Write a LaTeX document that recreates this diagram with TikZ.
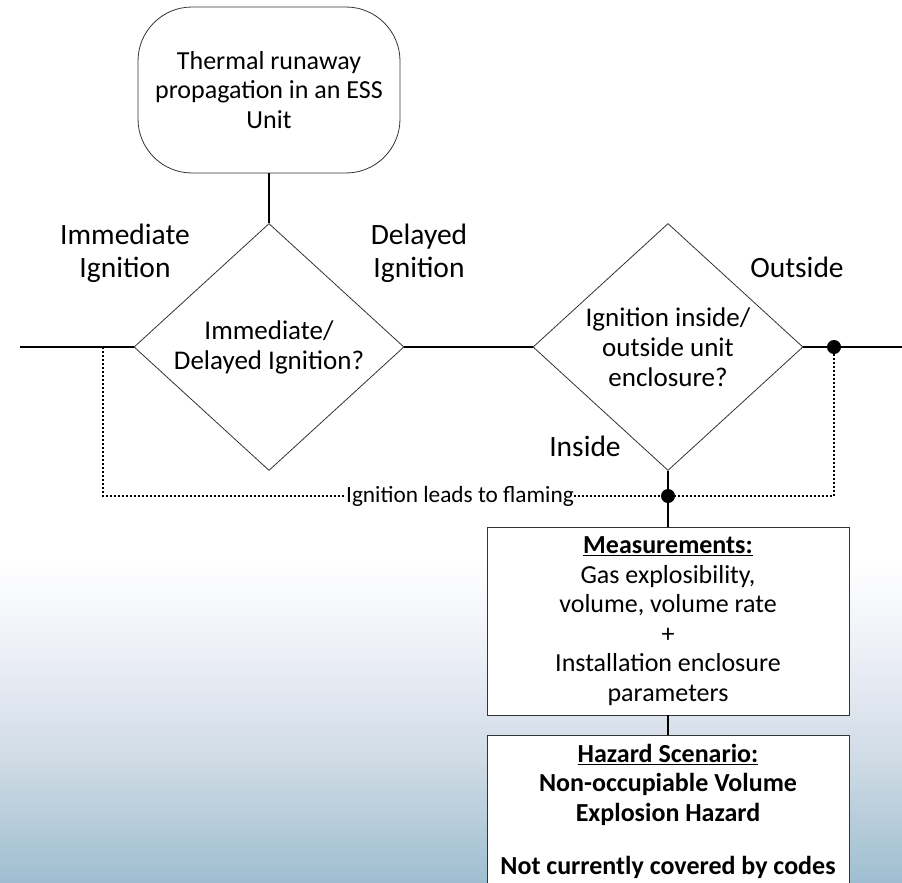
\documentclass[tikz,border=0pt]{standalone}
\usepackage{fontspec}
\setmainfont{Carlito}
\usetikzlibrary{shapes.geometric, calc}
\definecolor{bgone}{HTML}{EBEEF6}
\definecolor{bgtwo}{HTML}{CFDBE5}
\definecolor{bgbot}{HTML}{9EBED0}

\begin{document}
\begin{tikzpicture}[line cap=butt, line join=miter, x=1pt, y=-1pt,
  txt/.style={align=center, font=\fontsize{26}{29.5}\selectfont},
  lbl/.style={align=center, font=\fontsize{29.5}{33}\selectfont},
  box/.style={txt, draw=black!80, line width=0.8pt, fill=white, inner sep=0pt, minimum width=362},
  decision/.style={align=center, font=\fontsize{27}{30}\selectfont, diamond, draw=black!80, line width=0.8pt, fill=white, inner sep=0pt, aspect=1.093, minimum width=270, minimum height=247},
  wire/.style={line width=2pt, black},
  dots/.style={line width=2pt, black, dash pattern=on 2pt off 2pt},
  dot/.style={circle, fill=black, inner sep=0pt, minimum size=14}]
\useasboundingbox (0,0) rectangle (902,883);
% background
\fill[white] (0,0) rectangle (902,560);
\shade[top color=white, bottom color=bgone] (0,560) rectangle (902,661);
\shade[top color=bgone, bottom color=bgtwo] (0,660) rectangle (902,761);
\shade[top color=bgtwo, bottom color=bgbot] (0,760) rectangle (902,883);

% nodes
\node[txt, draw=black!80, line width=0.8pt, fill=white, rounded corners=54, minimum width=262, minimum height=166, inner sep=0pt] (start) at (269,90) {Thermal runaway\\propagation in an ESS\\Unit};
\node[decision] (ign) at (269,347) {Immediate/\\Delayed Ignition?};
\node[decision] (encl) at (668,347) {Ignition inside/\\outside unit\\enclosure?};
\node[box, minimum height=188] (meas) at (668,621) {\textbf{\underline{Measurements:}}\\Gas explosibility,\\volume, volume rate\\+\\Installation enclosure\\parameters};
\node[box, minimum height=152, anchor=north, font=\fontsize{26}{29.5}\selectfont\bfseries] (haz) at (668,735) {\underline{Hazard Scenario:}\\Non-occupiable Volume\\Explosion Hazard\\[24pt]Not currently covered by codes};

% branch labels
\node[lbl] (immL) at (125,253) {Immediate\\Ignition};
\node[lbl] (delL) at (419,253) {Delayed\\Ignition};
\node[lbl] (outL) at (797,267) {Outside};
\node[lbl] (insL) at (585,446) {Inside};

\coordinate (leftEnd) at (20,347);
\coordinate (rightEnd) at (902,347);
\coordinate (tapL) at (103,347);
\coordinate (cornL) at (103,496);
\coordinate (cornR) at (834,496);

% dotted flaming path
\node[fill=white, inner sep=0pt, font=\fontsize{23.3}{27}\selectfont] (flame) at (460,496) {Ignition leads to flaming};
\draw[dots] (tapL) -- (cornL) -- (flame.west);
\draw[dots] (flame.east) -- (668,496) -- (cornR) -- (834,347);

% connectors
\draw[wire] (start.south) -- (ign.north);
\draw[wire] (leftEnd) -- (ign.west);
\draw[wire] (ign.east) -- (encl.west);
\draw[wire] (encl.east) -- (rightEnd);
\draw[wire] (encl.south) -- (meas.north);
\draw[wire] (meas.south) -- (haz.north);

\node[dot] (dotOut) at (834,347) {};
\node[dot] (dotIn) at (668,496) {};
\end{tikzpicture}
\end{document}
